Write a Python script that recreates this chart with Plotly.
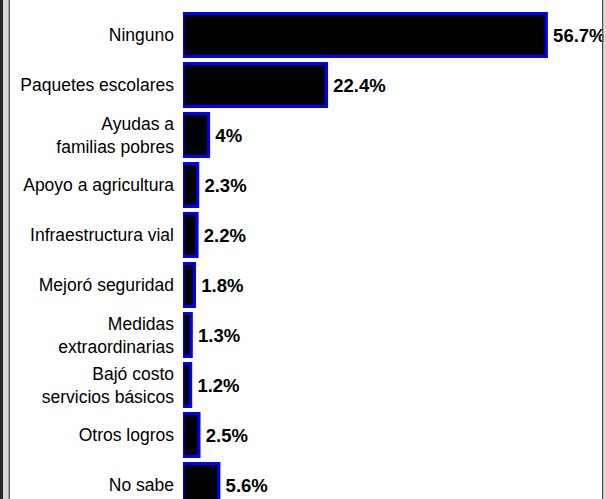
import plotly.graph_objects as go

categories = [
    "Ninguno",
    "Paquetes escolares",
    "Ayudas a<br>familias pobres",
    "Apoyo a agricultura",
    "Infraestructura vial",
    "Mejoró seguridad",
    "Medidas<br>extraordinarias",
    "Bajó costo<br>servicios básicos",
    "Otros logros",
    "No sabe",
]
values = [56.7, 22.4, 4.0, 2.3, 2.2, 1.8, 1.3, 1.2, 2.5, 5.6]
value_labels = ["56.7%", "22.4%", "4%", "2.3%", "2.2%", "1.8%", "1.3%", "1.2%", "2.5%", "5.6%"]

W, H = 606, 499
ML, MR, MT, MB = 183, 0, 10, 0
FONT = "Liberation Sans, Arial, sans-serif"

fig = go.Figure(go.Bar(
    x=values,
    y=list(range(len(categories))),
    orientation="h",
    marker=dict(color="#000000", line=dict(color="#0000FF", width=3)),
    text=["\u2009" + t for t in value_labels],
    textposition="outside",
    textfont=dict(family=FONT, size=18.5, color="#000000", weight="bold"),
    cliponaxis=False,
    hoverinfo="skip",
))

fig.update_layout(
    width=W, height=H,
    margin=dict(l=ML, r=MR, t=MT, b=MB, pad=0, autoexpand=False),
    paper_bgcolor="white", plot_bgcolor="white",
    bargap=0.14,
    showlegend=False,
    xaxis=dict(range=[0, 66], visible=False, showgrid=False, zeroline=False, automargin=False),
    yaxis=dict(
        range=[9.28, -0.5],
        tickmode="array",
        tickvals=list(range(len(categories))),
        ticktext=categories,
        showgrid=False, zeroline=False, showline=False, ticks="",
        tickfont=dict(family=FONT, size=17.5, color="#000000"),
        ticklabelstandoff=8,
        automargin=False,
    ),
)

# window frame edges (pixel -> paper)
pw = W - ML - MR
def px(v):
    return (v - ML) / pw

frame = [(0, 3, "#262626"), (3, 8.5, "#d9d9d9"), (8.5, 10, "#5a5a5a"),
         (602, 603.5, "#4a4a4a"), (603.5, 606, "#d9d9d9")]
for x0, x1, c in frame:
    fig.add_shape(type="rect", xref="paper", yref="paper", x0=px(x0), x1=px(x1),
                  y0=-0.1, y1=1.1, fillcolor=c, line=dict(width=0), layer="above")

fig.write_html("out.html", config={"displayModeBar": False},
               post_script="document.body.style.margin='0';document.body.style.overflow='hidden';")
